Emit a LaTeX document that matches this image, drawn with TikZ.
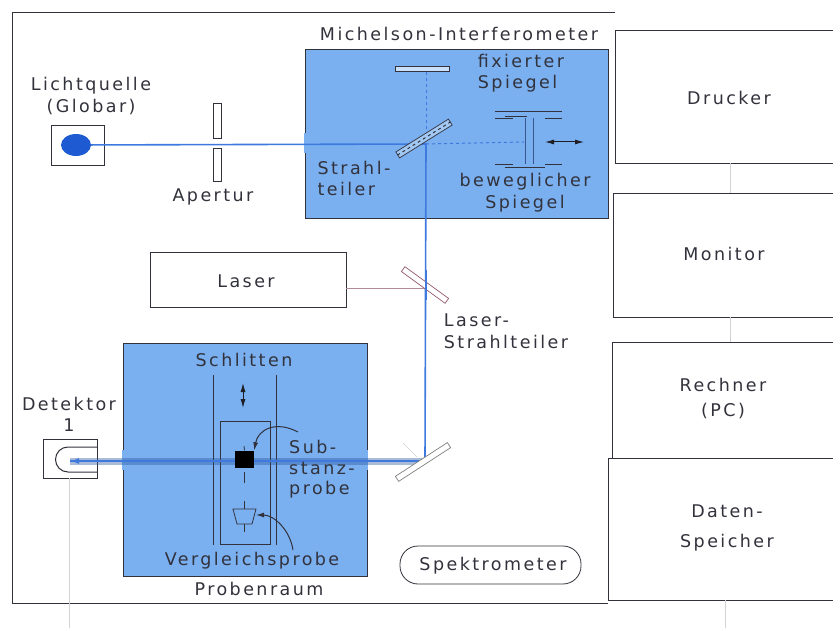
\documentclass[tikz,border=0pt]{standalone}
\usepackage{fontspec}
\setmainfont[LetterSpace=14]{DejaVu Sans}
\usepackage{xcolor}
\usetikzlibrary{shapes.geometric, arrows.meta}
\definecolor{roomblue}{RGB}{122,176,240}
\definecolor{beamblue}{RGB}{62,122,222}
\definecolor{inkgray}{RGB}{50,50,60}
\definecolor{darkblue}{RGB}{30,90,210}
\tikzset{
    frame/.style={draw=inkgray, line width=0.8pt, minimum width=#1, inner sep=0pt},
    room/.style={draw=inkgray, line width=0.9pt, fill=roomblue, inner sep=0pt},
    lbl/.style={text=inkgray, font=\fontsize{17.5}{20}\selectfont, align=center, inner sep=0pt},
    beam/.style={beamblue, line width=1.6pt},
    beamdash/.style={beamblue, line width=1pt, dashed},
    plate/.style={draw=inkgray, line width=0.7pt, fill=white, inner sep=0pt},
    wire/.style={gray!35, line width=0.7pt},
    part/.style={inkgray, line width=0.8pt},
    bothway/.style={inkgray!60!black, line width=1pt, {Latex[length=9pt,width=5pt]}-{Latex[length=9pt,width=5pt]}}
}
\begin{document}
\begin{tikzpicture}[x=1pt, y=-1pt]
    \useasboundingbox (0,0) rectangle (833,628);

    % outer frame
    \coordinate (ftr) at (615,12);
    \coordinate (ftl) at (12,12);
    \coordinate (fbl) at (12,603);
    \coordinate (fbr) at (608,603);
    \draw[part] (ftr) -- (ftl) -- (fbl) -- (fbr);

    % right column, open to the right
    \coordinate (e1) at (833,30);
    \coordinate (e2) at (833,163);
    \coordinate (e3) at (833,193);
    \coordinate (e4) at (833,317);
    \coordinate (e5) at (833,342);
    \coordinate (e6) at (833,458);
    \coordinate (e7) at (833,600);
    \draw[part] (e1) -- (615,30) -- (615,163) -- (e2);
    \draw[part] (e3) -- (613,193) -- (613,317) -- (e4);
    \draw[part] (e5) -- (612,342) -- (612,458) -- (e6);
    \draw[part] (612,458) -- (608,458) -- (608,600) -- (e7);
    \node[lbl] (drucker) at (729,98) {Drucker};
    \node[lbl] (monitor) at (724,254) {Monitor};
    \node[lbl] (rechner) at (723,399) {Rechner\\[5pt](PC)};
    \node[lbl] (daten) at (727,528) {Daten-\\[10pt]Speicher};
    \draw[wire] (730,163) -- (730,193);
    \draw[wire] (730,317) -- (730,342);
    \draw[wire] (725,600) -- (725,628);

    % blue rooms
    \node[room, minimum width=303pt, minimum height=169pt] (michelson) at (456.5,133.5) {};
    \node[room, minimum width=244pt, minimum height=233pt] (proben) at (245,459.5) {};
    \draw[roomblue, line width=1.5pt] (305,133) -- (305,153);
    \draw[roomblue, line width=1.5pt] (123,450) -- (123,470);
    \draw[roomblue, line width=1.5pt] (367,450) -- (367,470);
    \node[lbl] (michelsonlbl) at (459,34) {Michelson-Interferometer};
    \node[lbl] (probenlbl) at (259,589) {Probenraum};

    % source and aperture
    \node[frame=53pt, minimum height=40pt] (quelle) at (77.5,145) {};
    \node[ellipse, fill=darkblue, minimum width=30pt, minimum height=22pt, inner sep=0pt] (globar) at (76,145) {};
    \node[lbl] (quellelbl) at (91,96) {Lichtquelle\\[2pt](Globar)};
    \node[frame=8pt, minimum height=35pt] (ap1) at (217,120.5) {};
    \node[frame=8pt, minimum height=33pt] (ap2) at (217,164.5) {};
    \node[lbl] (aplbl) at (213,197) {Apertur};

    % laser
    \node[frame=196pt, minimum height=55pt] (laser) at (248,279.5) {};
    \node[lbl] (laserlbl) at (246,281) {Laser};
    \coordinate (lsplit) at (425,288);
    \draw[wire, gray!70!purple!70] (laser.east |- lsplit) -- (lsplit);

    % detector
    \node[frame=54pt, minimum height=39pt] (detektor) at (70,458.5) {};
    \node[lbl] (detlbl) at (69,414) {Detektor\\[1pt]1};
    \coordinate (dettip) at (70,461);
    \draw[part, line width=1pt] (97,447) -- (68,447) arc[start angle=90, end angle=270, radius=12.5pt] -- (97,472);
    \coordinate (detout) at (69,628);
    \draw[wire] (detektor.south -| detout) -- (detout);

    % sledge
    \draw[part, line width=1pt] (213,375) -- (213,545);
    \draw[part, line width=1pt] (276,375) -- (276,545);
    \node[draw=inkgray, line width=0.7pt, minimum width=50pt, minimum height=123pt, inner sep=0pt] (schlitten) at (245,482.5) {};
    \node[lbl] (schlittenlbl) at (244,360) {Schlitten};
    \coordinate (sl1) at (243,383);
    \coordinate (sl2) at (243,408);
    \draw[bothway] (sl1) -- (sl2);

    % beams
    \coordinate (bs) at (426,144);
    \coordinate (m3) at (425,461);
    \draw[beamblue!70!black, line width=7pt, opacity=0.4] (dettip) -- (m3);
    \draw[beam] (dettip) -- (m3);
    \draw[beam] (globar) -- (bs) -- (m3);
    \draw[beam, -{Latex[length=9pt,width=6pt]}] (100,461) -- (dettip);

    % sample and reference
    \node[fill=black, minimum width=19pt, minimum height=17pt, inner sep=0pt] (substanz) at (244.5,459) {};
    \draw[part] (244,446) -- (substanz.north);
    \draw[part] (244,472) -- (244,483);
    \draw[part] (233,509) -- (256,509) -- (252,524) -- (237,524) -- cycle;
    \draw[part] (244,501) -- (244,509);
    \draw[part] (244,524) -- (244,532);
    \node[lbl, align=left] (sublbl) at (322,469) {Sub-\\[1pt]stanz-\\[0pt]probe};
    \node[lbl] (verglbl) at (252,561) {Vergleichsprobe};
    \draw[part, line width=1pt, -{Latex[length=8pt,width=5pt]}] (298,432) .. controls (275,420) and (258,430) .. (substanz.north east);
    \draw[part, line width=1pt, -{Latex[length=8pt,width=5pt]}] (293,550) .. controls (290,530) and (274,515) .. (256,515);

    % michelson parts
    \node[plate, line width=0.6pt, fill=roomblue!40!white, minimum width=54pt, minimum height=5pt] (fixspiegel) at (422,69) {};
    \draw[beamdash] (fixspiegel.south -| bs) -- (bs);
    \node[plate, fill=roomblue!70!white, minimum width=62pt, minimum height=7pt, rotate=32] (strahlteiler) at (424,138.5) {};
    \draw[beamdash, inkgray] (strahlteiler.west) -- (strahlteiler.east);
    \coordinate (mirrorin) at (524,142);
    \draw[beamdash] (bs) -- (mirrorin);
    \draw[part, line width=1pt] (495,112) -- (562,112);
    \draw[part] (495,118) -- (513,118);
    \draw[part] (545,118) -- (562,118);
    \draw[part] (505,116) -- (527,116);
    \draw[part] (495,164) -- (513,164);
    \draw[part] (545,164) -- (562,164);
    \draw[part, line width=1pt] (505,168) -- (545,168);
    \draw[beamblue!50!inkgray, line width=0.8pt] (525,118) -- (525,164);
    \draw[beamblue!50!inkgray, line width=0.8pt] (533,118) -- (533,164);
    \coordinate (mv1) at (545,142);
    \coordinate (mv2) at (584,142);
    \draw[bothway] (mv1) -- (mv2);
    \node[lbl, align=left] (fixlbl) at (521,73) {fixierter\\[1pt]Spiegel};
    \node[lbl, align=left] (stlbl) at (354,178) {Strahl-\\[1pt]teiler};
    \node[lbl] (beweglbl) at (525,193) {beweglicher\\[2pt]Spiegel};

    % laser splitter and last mirror
    \node[plate, draw=gray!70!purple, minimum width=54pt, minimum height=6pt, rotate=-36] (lteiler) at (425,285) {};
    \draw[beam] (426,270) -- (426,300);
    \node[lbl, align=left] (ltlbl) at (506,331) {Laser-\\[2pt]Strahlteiler};
    \node[plate, draw=gray, minimum width=62pt, minimum height=6pt, rotate=33] (umlenk) at (423,462) {};
    \draw[wire] (403,443) -- (417,457);

    % spectrometer tag
    \node[draw=inkgray, line width=0.8pt, rounded corners=18pt, minimum width=181pt, minimum height=38pt, inner sep=0pt] (spektro) at (490.5,565) {};
    \node[lbl] (spektrolbl) at (493,566) {Spektrometer};
\end{tikzpicture}
\end{document}
